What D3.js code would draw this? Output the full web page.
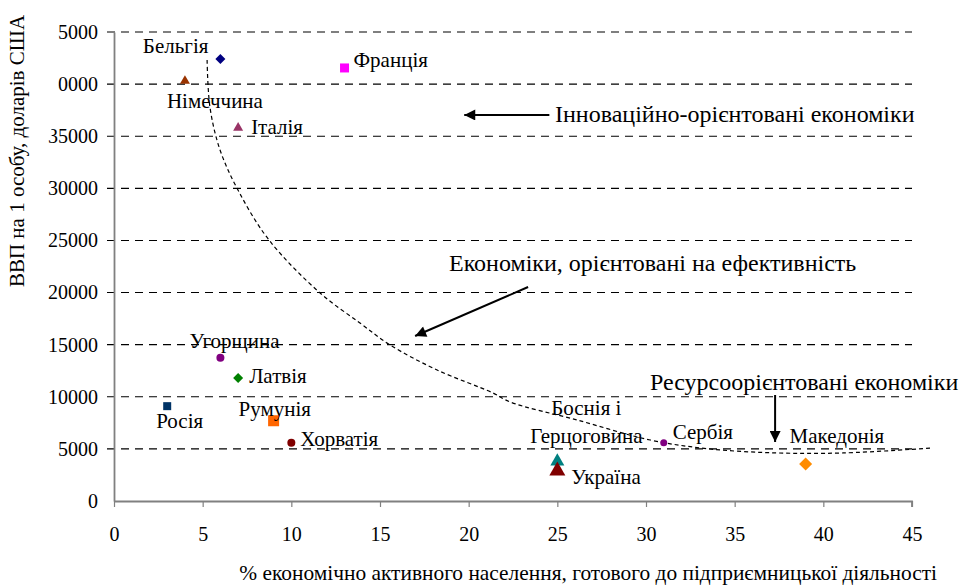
<!DOCTYPE html>
<html>
<head>
<meta charset="utf-8">
<script src="https://cdn.jsdelivr.net/npm/d3@7"></script>
<style>
  body { margin: 0; background: #fff; }
  svg, svg text { font-family: "Liberation Serif", "Times New Roman", "DejaVu Serif", "Noto Serif", serif !important; }
</style>
</head>
<body>
<svg id="chart" width="962" height="585"></svg>
<script>
// країни та значення
const countries = ["Бельгія", "Німеччина", "Франція", "Італія", "Угорщина", "Латвія", "Росія",
  "Румунія", "Хорватія", "Боснія і Герцоговина", "Україна", "Сербія", "Македонія"];
const activity = [6, 4, 13, 7, 6, 7, 3, 9, 10, 25, 25, 31, 39];
const gdp = [42400, 40300, 41550, 35800, 13750, 11800, 9100, 7700, 5600, 3800, 2900, 5600, 3550];

const xTicks = [0, 5, 10, 15, 20, 25, 30, 35, 40, 45];
const yTicks = [0, 5000, 10000, 15000, 20000, 25000, 30000, 35000, 40000, 45000];

// пунктирна крива, що розділяє групи економік
const curveX = [5.25, 5.41, 5.98, 6.99, 8.74, 11.62, 13.87, 15.57, 18.22, 21.38, 22.34, 26.12, 30.24, 33.62, 37.4, 41.12, 46.19];
const curveY = [42310, 37800, 33680, 29840, 25040, 19960, 17080, 14970, 12570, 10360, 9500, 7770, 5850, 4990, 4610, 4610, 5090];

const xTitle = "% економічно активного населення, готового до підприємницької діяльності";
const yTitle = "ВВП на 1 особу, доларів США";

// вигляд маркерів
const shapes = ["diamond", "triangle", "square", "triangle", "circle", "diamond", "square",
  "square", "circle", "triangle", "triangle", "circle", "diamond"];
const colors = ["#000080", "#993300", "#FF00FF", "#993366", "#800080", "#008000", "#003366",
  "#FF6600", "#800000", "#008080", "#800000", "#800080", "#FF8C00"];
const sizes = [10, 10, 9, 10, 8, 10, 8, 11, 8, 14, 16, 7, 13];
// зсув підписів від точки, px
const labelDx = [-12, -18, 9, 13, -31, 11, -11, -35, 9, 29, 14, 9, -16];
const labelDy = [-6, 27, -1, 6, -10, 5, 22, -5, 3, -46, 13, -4, -21];
const labelAnchor = ["end", "start", "start", "start", "start", "start", "start",
  "start", "start", "middle", "start", "start", "start"];

const svg = d3.select("#chart");
const x = d3.scaleLinear().domain([0, 45]).range([114, 912]);
const y = d3.scaleLinear().domain([0, 45000]).range([501, 32]);
const fontTick = 20;

svg.append("defs").append("marker")
  .attr("id", "arrow")
  .attr("viewBox", "0 0 10 10")
  .attr("refX", 10).attr("refY", 5)
  .attr("markerWidth", 16).attr("markerHeight", 11)
  .attr("markerUnits", "userSpaceOnUse")
  .attr("orient", "auto")
  .append("path")
  .attr("d", "M0,0 L10,5 L0,10 Z")
  .attr("fill", "#000");

// горизонтальна сітка
svg.append("g")
  .selectAll("line")
  .data(yTicks.filter(d => d > 0))
  .join("line")
  .attr("x1", 107).attr("x2", x(45))
  .attr("y1", d => y(d)).attr("y2", d => y(d))
  .attr("stroke", "#000")
  .attr("stroke-width", 1.1)
  .attr("stroke-dasharray", "8,6");

// осі
const xAxis = svg.append("g")
  .attr("transform", `translate(0,${y(0)})`)
  .call(d3.axisBottom(x).tickValues(xTicks).tickSize(6).tickPadding(20));
const yAxis = svg.append("g")
  .attr("transform", `translate(${x(0)},0)`)
  .call(d3.axisLeft(y).tickValues(yTicks).tickSize(0).tickPadding(16).tickFormat(d3.format("d")));
[xAxis, yAxis].forEach(a => {
  a.attr("font-family", null);
  a.select(".domain").attr("stroke", "#808080").attr("stroke-width", 1.8);
  a.selectAll(".tick line").attr("stroke", "#808080").attr("stroke-width", 1.2);
  a.selectAll("text")
    .attr("font-size", fontTick)
    .attr("fill", "#000");
});
xAxis.select(".domain").attr("d", `M${x(0)},0.5H${x(45)}V6`);

// пунктирна крива
svg.append("path")
  .datum(d3.range(curveX.length))
  .attr("d", d3.line().curve(d3.curveCatmullRom).x(i => x(curveX[i])).y(i => y(curveY[i])))
  .attr("fill", "none")
  .attr("stroke", "#000")
  .attr("stroke-width", 1.2)
  .attr("stroke-dasharray", "4,3");

// маркери
const symbolType = { circle: d3.symbolCircle, square: d3.symbolSquare, diamond: d3.symbolSquare, triangle: d3.symbolTriangle };
const symbolArea = (shape, s) => shape === "circle" ? Math.PI * s * s / 4
  : shape === "triangle" ? s * s * Math.sqrt(3) / 4 : s * s * (shape === "diamond" ? 0.5 : 1);
svg.append("g")
  .selectAll("path")
  .data(d3.range(countries.length))
  .join("path")
  .attr("transform", i => `translate(${x(activity[i])},${y(gdp[i])})` + (shapes[i] === "diamond" ? " rotate(45)" : ""))
  .attr("d", i => d3.symbol(symbolType[shapes[i]], symbolArea(shapes[i], sizes[i]))())
  .attr("fill", i => colors[i]);

// підписи країн
const labels = svg.append("g")
  .attr("font-size", 21)
  .selectAll("text")
  .data(d3.range(countries.length))
  .join("text")
  .attr("x", i => x(activity[i]) + labelDx[i])
  .attr("y", i => y(gdp[i]) + labelDy[i])
  .attr("text-anchor", i => labelAnchor[i]);
labels.each(function (i) {
  const words = countries[i] === "Боснія і Герцоговина" ? ["Боснія і", "Герцоговина"] : [countries[i]];
  d3.select(this).selectAll("tspan")
    .data(words)
    .join("tspan")
    .attr("x", x(activity[i]) + labelDx[i])
    .attr("dy", (d, k) => k === 0 ? 0 : 28)
    .text(d => d);
});

// анотації зі стрілками
const notes = [
  { text: "Інноваційно-орієнтовані економіки", tx: 555, ty: 122, from: [24.55, 37040], to: [19.75, 37040] },
  { text: "Економіки, орієнтовані на ефективність", tx: 449, ty: 271, from: [23.35, 20530], to: [16.98, 15830] },
  { text: "Ресурсоорієнтовані економіки", tx: 650, ty: 390, from: [37.28, 10170], to: [37.28, 5660] }
];
const noteG = svg.append("g");
noteG.selectAll("line")
  .data(notes)
  .join("line")
  .attr("x1", d => x(d.from[0])).attr("y1", d => y(d.from[1]))
  .attr("x2", d => x(d.to[0])).attr("y2", d => y(d.to[1]))
  .attr("stroke", "#000")
  .attr("stroke-width", 2)
  .attr("marker-end", "url(#arrow)");
noteG.selectAll("text")
  .data(notes)
  .join("text")
  .attr("x", d => d.tx).attr("y", d => d.ty)
  .attr("font-size", 24)
  .text(d => d.text);

// білий фон назви осі Y частково закриває перші цифри верхніх підписів
const tickText = v => yAxis.selectAll(".tick").filter(d => d === v).select("text").node();
const cutAt = (v, frac) => {
  const t = tickText(v);
  const p0 = t.getStartPositionOfChar(0).x, p1 = t.getStartPositionOfChar(1).x;
  return x(0) + p0 + (p1 - p0) * frac;
};
const cutTop = Math.max(cutAt(45000, 1.02), cutAt(40000, 1.02));
svg.append("rect").attr("x", 0).attr("y", 0).attr("width", cutTop).attr("height", y(37500)).attr("fill", "#fff");
svg.append("rect").attr("x", 0).attr("y", y(37500)).attr("width", cutAt(35000, 0.35)).attr("height", 30).attr("fill", "#fff");

// назви осей
svg.append("text")
  .attr("transform", "translate(24,151) rotate(-90)")
  .attr("text-anchor", "middle")
  .attr("font-size", 21)
  .text(yTitle);
svg.append("text")
  .attr("x", 937).attr("y", 580)
  .attr("text-anchor", "end")
  .attr("font-size", 21.4)
  .text(xTitle);
</script>
</body>
</html>
